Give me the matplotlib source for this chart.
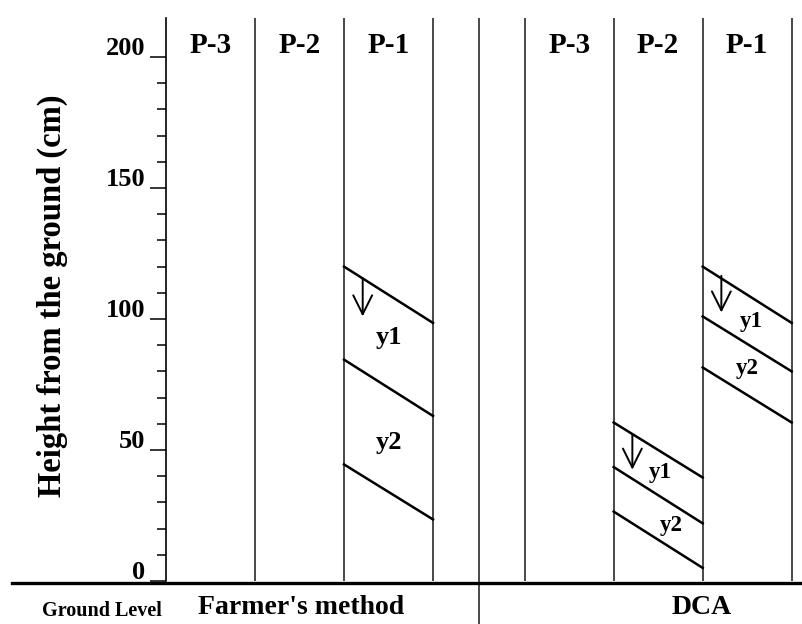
import matplotlib
matplotlib.use("Agg")
import matplotlib.pyplot as plt
from matplotlib.transforms import ScaledTranslation

plt.rcParams['font.family'] = ['Liberation Serif', 'DejaVu Serif']
plt.rcParams['font.weight'] = 'bold'

# column labels and boundaries (in column units, axis at 0)
headers = ["P-3", "P-2", "P-1"]
farmer_edges = [0, 1, 2, 3]
dca_edges = [4.03, 5.03, 6.03, 7.03]
separator = 3.52

# height of each boundary line: (left end, right end) in cm
farmer_p1_lines = [(120, 98.5), (84.5, 63), (44.5, 23.5)]
dca_p2_lines = [(60.5, 39.5), (43.5, 22), (26.5, 5)]
dca_p1_lines = [(120, 98.5), (101, 80), (81.5, 60.5)]

# arrows (top, bottom) and layer labels
farmer_p1_arrow = (115.5, 101)
dca_p2_arrow = (56, 42.5)
dca_p1_arrow = (116.5, 102.5)
farmer_p1_labels = [("y1", 93), ("y2", 53)]
dca_p2_labels = [("y1", 41.5), ("y2", 21)]
dca_p1_labels = [("y1", 99), ("y2", 81)]

yticks = [0, 50, 100, 150, 200]
top = 215

fig = plt.figure(figsize=(8.03, 6.24), dpi=100)
ax = fig.add_axes([0, 0, 1, 1])
ax.set_xlim(-166 / 89, (803 - 166) / 89)
ax.set_ylim(-43 / 2.62, (624 - 43) / 2.62)

for s in ["top", "right", "bottom"]:
    ax.spines[s].set_visible(False)
ax.spines["left"].set_position(("data", 0))
ax.spines["left"].set_bounds(0, top)
ax.spines["left"].set_linewidth(1.2)
ax.set_xticks([])
ax.set_yticks(yticks)
ax.set_yticks(range(0, 210, 10), minor=True)
ax.tick_params(axis="y", which="major", length=11.5, width=1.1, labelsize=19, pad=3.5)
ax.tick_params(axis="y", which="minor", length=6.5, width=1.1)
for lab in ax.get_yticklabels():
    lab.set_fontweight("bold")
    lab.set_transform(lab.get_transform() + ScaledTranslation(0, 8 / 72, fig.dpi_scale_trans))

vcol = "#3a3a3a"
for x in farmer_edges[1:] + dca_edges:
    ax.plot([x, x], [0, top], color=vcol, lw=1.3, solid_capstyle="butt")
ax.plot([separator, separator], [-16.5, top], color=vcol, lw=1.3, solid_capstyle="butt")
ax.plot([-1.73, 7.2], [-0.6, -0.6], color="black", lw=2.4, clip_on=False)

for edges in (farmer_edges, dca_edges):
    for i, h in enumerate(headers):
        ax.text((edges[i] + edges[i + 1]) / 2, 204.5, h, ha="center", va="center",
                fontsize=21, fontweight="bold")


def draw_column(x0, lines, arrow, labels, label_x, fs):
    for y0, y1 in lines:
        ax.plot([x0, x0 + 1], [y0, y1], color="black", lw=1.8)
    ax.annotate("", xy=(x0 + 0.21, arrow[1]), xytext=(x0 + 0.21, arrow[0]),
                arrowprops=dict(arrowstyle="->", color="black", lw=1.4,
                                mutation_scale=34, shrinkA=0, shrinkB=0))
    for (txt, y), lx in zip(labels, label_x):
        ax.text(x0 + lx, y, txt, ha="center", va="center", fontsize=fs,
                fontweight="bold")


draw_column(farmer_edges[2], farmer_p1_lines, farmer_p1_arrow, farmer_p1_labels, [0.5, 0.5], 19)
draw_column(dca_edges[1], dca_p2_lines, dca_p2_arrow, dca_p2_labels, [0.52, 0.65], 16.5)
draw_column(dca_edges[2], dca_p1_lines, dca_p1_arrow, dca_p1_labels, [0.55, 0.5], 16.5)

ax.text(-1.28, 109, "Height from the ground (cm)", rotation=90, ha="center",
        va="center", fontsize=23.5, fontweight="bold")
ax.text(-0.72, -11.5, "Ground Level", ha="center", va="center", fontsize=14.5,
        fontweight="bold")
ax.text(1.52, -10, "Farmer's method", ha="center", va="center", fontsize=20,
        fontweight="bold")
ax.text(6.02, -10, "DCA", ha="center", va="center", fontsize=20,
        fontweight="bold")

fig.savefig("out.png", dpi=100)
